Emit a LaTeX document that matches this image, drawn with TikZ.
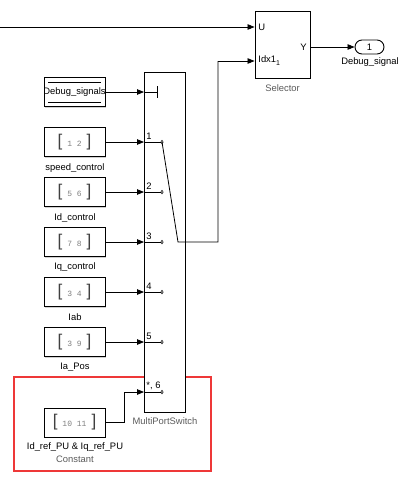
\documentclass[tikz,border=0pt]{standalone}
\usepackage{fontspec}
\setmainfont{Liberation Sans}
\newfontfamily\monof{Liberation Mono}
\usetikzlibrary{arrows.meta,shadows}
\definecolor{redframe}{RGB}{238,56,56}
\definecolor{txtgray}{RGB}{90,90,90}
\newcommand{\cval}[1]{{\color{black!75}\fontsize{17}{17}\selectfont[}\hspace{5pt}{\monof\fontsize{8}{9}\selectfont\color{gray}#1}\hspace{5pt}{\color{black!75}\fontsize{17}{17}\selectfont]}}
\begin{document}
\begin{tikzpicture}[x=1pt,y=-1pt,
  font=\fontsize{9.4}{10}\selectfont,
  line width=0.8pt,
  blk/.style={draw=black, line width=0.9pt, fill=white, inner sep=0pt,
    drop shadow={shadow xshift=1.2pt, shadow yshift=-1.2pt, fill=black!30, opacity=0.6}},
  cst/.style={blk, minimum width=61pt, minimum height=29pt},
  lbl/.style={inner sep=0pt, text=black},
  glbl/.style={inner sep=0pt, text=txtgray},
  arr/.style={-{Triangle[length=7pt,width=5.5pt]}},
  wire/.style={line width=0.8pt},
]
\useasboundingbox (0,0) rectangle (408,485);

% red frame
\draw[redframe, line width=1.6pt] (14,377) rectangle (211,471);

% Selector
\node[blk, minimum width=55pt, minimum height=67pt] (sel) at (282.5,44.5) {};
\node[lbl, anchor=west] (selU) at (258,27) {U};
\node[lbl, anchor=west] (selI) at (258,61) {Idx1\raisebox{-3pt}{\fontsize{7}{8}\selectfont 1}};
\node[lbl, anchor=east] (selY) at (307,47) {Y};
\node[glbl] (selL) at (282.5,88) {Selector};

% Outport
\node[draw, line width=0.9pt, rounded corners=7pt, minimum width=29pt, minimum height=14pt, inner sep=0pt] (out) at (369.5,47) {1};
\node[lbl] (outL) at (370,62) {Debug\_signal};

% MultiPortSwitch
\node[blk, minimum width=41pt, minimum height=340pt] (sw) at (164.5,242) {};
\node[glbl] (swL) at (165,421) {MultiPortSwitch};

% port coordinates on switch
\coordinate (pc) at (144,92);
\coordinate (p1) at (144,142);
\coordinate (p2) at (144,192);
\coordinate (p3) at (144,242);
\coordinate (p4) at (144,292);
\coordinate (p5) at (144,342);
\coordinate (p6) at (144,392);

% switch internals
\draw[wire] (pc) -- (157,92);
\draw[wire] (157,86) -- (157,98);
\foreach \i/\y/\t in {1/142/1,2/192/2,3/242/3,4/292/4,5/342/5,6/392/{*, 6}}{
  \draw[wire, line width=0.6pt] (144,\y) -- (160.5,\y);
  \draw[line width=0.5pt] (162,\y) ellipse (1.2pt and 1.8pt);
  \node[lbl, anchor=south west, inner sep=0pt] at (146,\y-2) {\t};
}

% constants
\node[cst] (dbg) at (74.5,92) {};
\begin{scope}
\clip (dbg.south west) rectangle (dbg.north east);
\node[inner sep=0pt] (dbgT) at (74.5,92) {Debug\_signals};
\end{scope}
\draw[line width=0.6pt] (48,82) -- (101,82);
\draw[line width=0.6pt] (48,102) -- (101,102);

\node[cst] (c1) at (74.5,142) {\cval{1 2}};
\node[cst] (c2) at (74.5,192) {\cval{5 6}};
\node[cst] (c3) at (74.5,242) {\cval{7 8}};
\node[cst] (c4) at (74.5,292) {\cval{3 4}};
\node[cst] (c5) at (74.5,342) {\cval{3 9}};
\node[cst] (c6) at (74.5,422.5) {\cval{10 11}};

\node[lbl] (l1) at (75,168) {speed\_control};
\node[lbl] (l2) at (75,218) {Id\_control};
\node[lbl] (l3) at (75,267) {Iq\_control};
\node[lbl] (l4) at (75,317) {Iab};
\node[lbl] (l5) at (75,367) {Ia\_Pos};
\node[lbl] (l6) at (75,447) {Id\_ref\_PU \& Iq\_ref\_PU};
\node[glbl] (l6b) at (75,459) {Constant};

% connectors
\draw[wire, arr] (dbg.east) -- (pc);
\draw[wire, arr] (c1.east |- p1) -- (p1);
\draw[wire, arr] (c2.east |- p2) -- (p2);
\draw[wire, arr] (c3.east |- p3) -- (p3);
\draw[wire, arr] (c4.east |- p4) -- (p4);
\draw[wire, arr] (c5.east |- p5) -- (p5);
\draw[wire, arr] (c6.east) -- (124,422.5) -- (124,392) -- (p6);

\coordinate (left) at (0,27);
\draw[wire, arr] (left) -- (sel.west |- left);
\draw[wire] (162,142) -- (178,242) -- (218,242) -- (218,61);
\coordinate (sw1) at (218,61);
\draw[wire, arr] (sw1) -- (sel.west |- sw1);
\draw[wire, arr] (sel.east |- out) -- (out.west);
\end{tikzpicture}
\end{document}
